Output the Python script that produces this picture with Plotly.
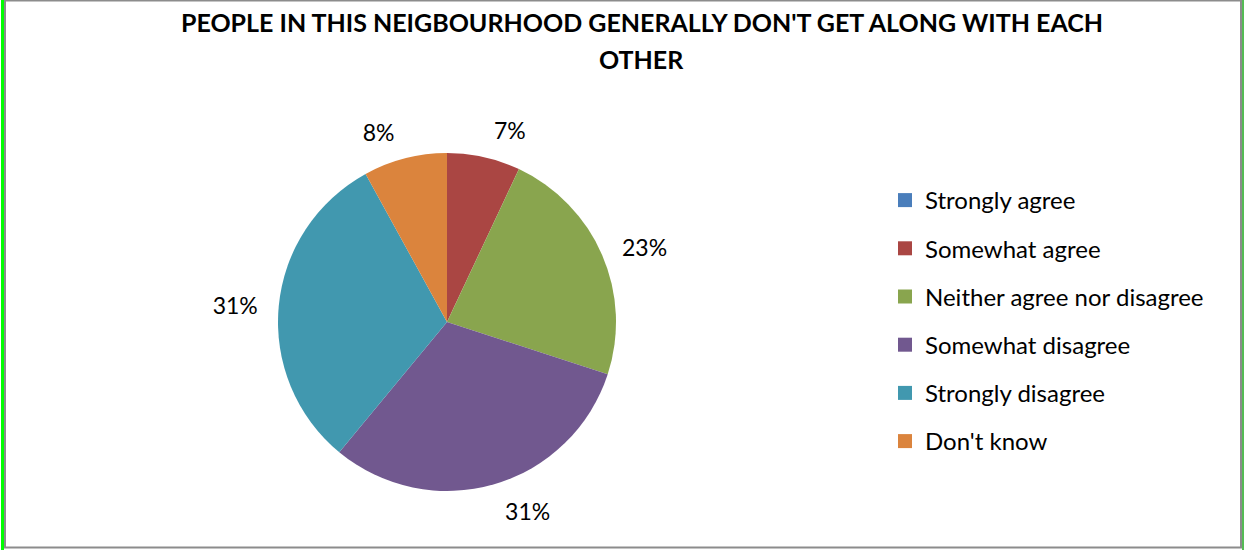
import plotly.graph_objects as go

categories = ["Strongly agree", "Somewhat agree", "Neither agree nor disagree",
              "Somewhat disagree", "Strongly disagree", "Don't know"]
values = [0, 7, 23, 31, 31, 8]
colors = ["#4A7EBB", "#AA4643", "#89A54E", "#71588F", "#4198AF", "#DB843D"]
title_line1 = "PEOPLE IN THIS NEIGBOURHOOD GENERALLY DON'T GET ALONG WITH EACH"
title_line2 = "OTHER"

W, H = 1244, 550
FONT = "Lato"

labels_text = [f"{v}%" if v > 0 else "" for v in values]

CX, CY, R = 447, 322, 169
R2 = 183

fig = go.Figure()
# visible pie
fig.add_trace(go.Pie(
    labels=categories, values=values, textinfo="none",
    marker=dict(colors=colors, line=dict(width=0)),
    sort=False, direction="clockwise", rotation=0,
    showlegend=False, hoverinfo="label+percent",
    domain=dict(x=[(CX - R) / W, (CX + R) / W], y=[1 - (CY + R) / H, 1 - (CY - R) / H]),
))
# transparent, slightly larger pie carrying the outside data labels
fig.add_trace(go.Pie(
    labels=categories, values=values, text=labels_text,
    texttemplate="%{text}", textposition="outside",
    textfont=dict(family=FONT, size=23, color="#000000"),
    marker=dict(colors=["rgba(0,0,0,0)"] * len(values), line=dict(width=0)),
    sort=False, direction="clockwise", rotation=0,
    showlegend=False, hoverinfo="skip",
    domain=dict(x=[(CX - R2) / W, (CX + R2) / W], y=[1 - (CY + R2) / H, 1 - (CY - R2) / H]),
))

for i, (c, col) in enumerate(zip(categories, colors)):
    fig.add_trace(go.Scatter(
        x=[None], y=[None], mode="markers", name=c,
        marker=dict(symbol="square", size=14, color=col),
        legendgroup=f"g{i}", showlegend=True,
    ))

fig.update_layout(
    width=W, height=H,
    margin=dict(l=0, r=0, t=0, b=0),
    paper_bgcolor="white", plot_bgcolor="white",
    xaxis=dict(visible=False), yaxis=dict(visible=False),
    title=dict(text=title_line1, x=642 / W, xanchor="center", y=1 - 23.5 / H, yanchor="middle",
               yref="container",
               font=dict(family=FONT, size=25, color="#000000", weight="bold")),
    legend=dict(x=885 / W, y=1 - 178 / H, xanchor="left", yanchor="top",
                font=dict(family=FONT, size=24, color="#000000"),
                traceorder="grouped", tracegroupgap=14, itemwidth=30,
                bgcolor="rgba(0,0,0,0)"),
    annotations=[dict(text=title_line2, x=642 / W, y=1 - 59 / H, xref="paper", yref="paper",
                      xanchor="center", yanchor="middle", showarrow=False,
                      font=dict(family=FONT, size=25, color="#000000", weight="bold"))],
    shapes=[
        dict(type="rect", xref="paper", yref="paper", x0=5 / W, x1=1241 / W, y0=1 - 547.5 / H, y1=1 - 0.5 / H,
             line=dict(color="#8C8C8C", width=2)),
        dict(type="line", xref="paper", yref="paper", x0=2.5 / W, x1=2.5 / W, y0=0, y1=1,
             line=dict(color="#00FF00", width=3)),
        dict(type="line", xref="paper", yref="paper", x0=1243 / W, x1=1243 / W, y0=0, y1=1,
             line=dict(color="#55BB55", width=2)),
    ],
)

fig.write_html("out.html", config={"displayModeBar": False},
               post_script="document.body.style.margin='0';document.body.style.overflow='hidden';")
